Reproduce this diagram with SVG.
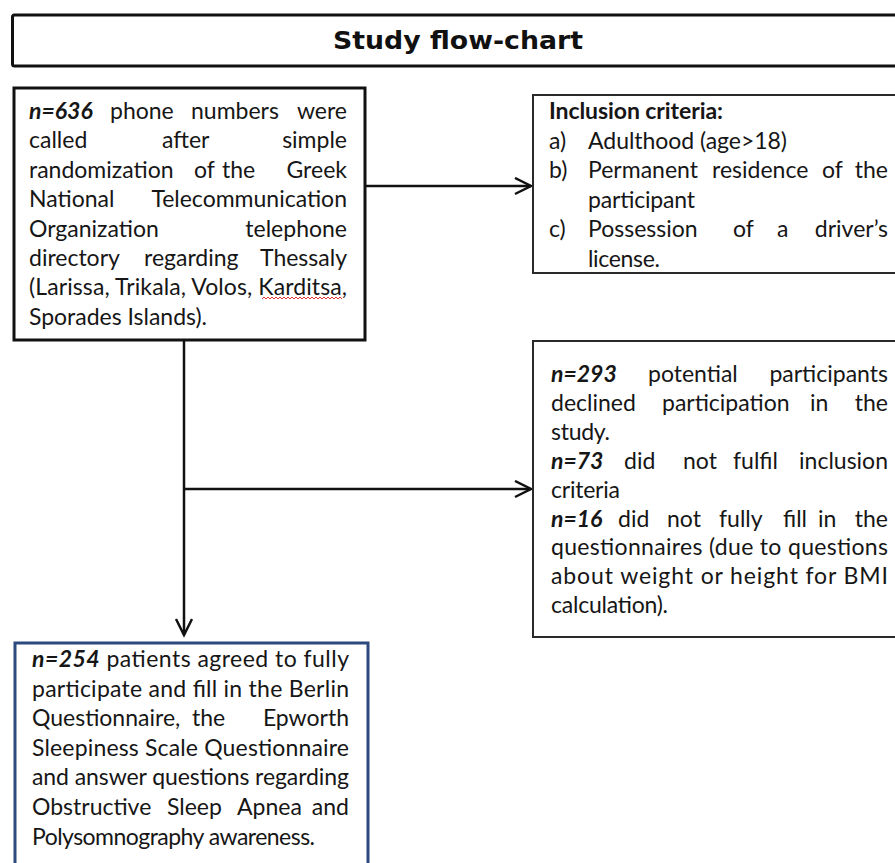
<svg xmlns="http://www.w3.org/2000/svg" width="895" height="863" viewBox="0 0 895 863">
<style>
.t{font-family:Lato,"Liberation Sans",sans-serif;font-size:23px;fill:#161616}
.b{font-weight:bold;font-style:italic}
.h{font-weight:bold}
.e{text-anchor:end}
.box{fill:#fff;stroke:#111;stroke-width:3}
.thin{fill:#fff;stroke:#2a2a2a;stroke-width:2}
.conn{fill:none;stroke:#111;stroke-width:2.5}
</style>
<defs>
<marker id="arr" markerUnits="userSpaceOnUse" markerWidth="20" markerHeight="20" refX="17" refY="9" orient="auto">
<path d="M1,1 L17,9 L1,17" fill="none" stroke="#111" stroke-width="2.5"/>
</marker>
</defs>
<rect width="895" height="863" fill="#fff"/>

<g id="title">
<rect class="box" x="12.5" y="15" width="900" height="51" rx="2"/>
<text x="458" y="49" text-anchor="middle" textLength="250" lengthAdjust="spacingAndGlyphs" style="font-family:'DejaVu Sans',Verdana,sans-serif;font-weight:bold;font-size:25px;fill:#111">Study flow-chart</text>
</g>

<g id="connectors">
<path class="conn" d="M365 186 H531" marker-end="url(#arr)"/>
<path class="conn" d="M184 340 V635" marker-end="url(#arr)"/>
<path class="conn" d="M184 489 H531" marker-end="url(#arr)"/>
</g>

<g id="box-called">
<rect class="box" x="14" y="88" width="351" height="252"/>
<g class="t">
<text x="29" y="119" class="b">n=636</text><text x="110" y="119">phone</text><text x="191" y="119">numbers</text><text x="347" y="119" class="e">were</text>
<text x="29" y="148">called</text><text x="162" y="148">after</text><text x="347" y="148" class="e">simple</text>
<text x="29" y="178">randomization</text><text x="194" y="178">of</text><text x="222" y="178">the</text><text x="347" y="178" class="e">Greek</text>
<text x="29" y="207">National</text><text x="347" y="207" class="e">Telecommunication</text>
<text x="29" y="237">Organization</text><text x="347" y="237" class="e">telephone</text>
<text x="29" y="266">directory</text><text x="144" y="266">regarding</text><text x="347" y="266" class="e">Thessaly</text>
<text x="29" y="295" textLength="318" lengthAdjust="spacing">(Larissa, Trikala, Volos, Karditsa,</text>
<text x="29" y="325" textLength="178" lengthAdjust="spacing">Sporades Islands).</text>
</g>
<path d="M262 299 l2 -2 l2 2 l2 -2 l2 2 l2 -2 l2 2 l2 -2 l2 2 l2 -2 l2 2 l2 -2 l2 2 l2 -2 l2 2 l2 -2 l2 2 l2 -2 l2 2 l2 -2 l2 2 l2 -2 l2 2 l2 -2 l2 2 l2 -2 l2 2 l2 -2 l2 2 l2 -2 l2 2 l2 -2 l2 2 l2 -2 l2 2 l2 -2 l2 2 l2 -2 l2 2 l2 -2 l2 2" fill="none" stroke="#e03030" stroke-width="1"/>
</g>

<g id="box-inclusion">
<rect class="thin" x="533" y="95" width="380" height="178"/>
<g class="t">
<text x="549" y="119" class="h" textLength="174" lengthAdjust="spacing">Inclusion criteria:</text>
<text x="549" y="149">a)</text><text x="588" y="149" textLength="199" lengthAdjust="spacing">Adulthood (age&gt;18)</text>
<text x="549" y="178">b)</text><text x="588" y="178">Permanent</text><text x="712" y="178">residence</text><text x="822" y="178">of</text><text x="888" y="178" class="e">the</text>
<text x="588" y="208" textLength="107" lengthAdjust="spacing">participant</text>
<text x="549" y="237">c)</text><text x="588" y="237">Possession</text><text x="733" y="237">of</text><text x="777" y="237">a</text><text x="888" y="237" class="e">driver’s</text>
<text x="588" y="267" textLength="72" lengthAdjust="spacing">license.</text>
</g>
</g>

<g id="box-excluded">
<rect class="thin" x="533" y="341" width="380" height="296"/>
<g class="t">
<text x="551" y="382" class="b">n=293</text><text x="648" y="382">potential</text><text x="888" y="382" class="e">participants</text>
<text x="551" y="411">declined</text><text x="662" y="411">participation</text><text x="810" y="411">in</text><text x="888" y="411" class="e">the</text>
<text x="551" y="440" textLength="59" lengthAdjust="spacing">study.</text>
<text x="551" y="469" class="b">n=73</text><text x="624" y="469">did</text><text x="683" y="469">not</text><text x="733" y="469">fulfil</text><text x="888" y="469" class="e">inclusion</text>
<text x="551" y="498" textLength="69" lengthAdjust="spacing">criteria</text>
<text x="551" y="527" class="b">n=16</text><text x="618" y="527">did</text><text x="667" y="527">not</text><text x="719" y="527">fully</text><text x="783" y="527">fill</text><text x="818" y="527">in</text><text x="888" y="527" class="e">the</text>
<text x="551" y="555" textLength="337" lengthAdjust="spacing">questionnaires (due to questions</text>
<text x="551" y="584" textLength="337" lengthAdjust="spacing">about weight or height for BMI</text>
<text x="551" y="613" textLength="117" lengthAdjust="spacing">calculation).</text>
</g>
</g>

<g id="box-agreed">
<rect x="15" y="643" width="353" height="240" fill="#fff" stroke="#2c4a7e" stroke-width="3"/>
<g class="t">
<text x="32" y="667" textLength="317" lengthAdjust="spacing"><tspan class="b">n=254</tspan> patients agreed to fully</text>
<text x="32" y="697" textLength="317" lengthAdjust="spacing">participate and fill in the Berlin</text>
<text x="32" y="726">Questionnaire,</text><text x="192" y="726">the</text><text x="349" y="726" class="e">Epworth</text>
<text x="32" y="756" textLength="317" lengthAdjust="spacing">Sleepiness Scale Questionnaire</text>
<text x="32" y="785" textLength="317" lengthAdjust="spacing">and answer questions regarding</text>
<text x="32" y="815">Obstructive</text><text x="167" y="815">Sleep</text><text x="237" y="815">Apnea</text><text x="349" y="815" class="e">and</text>
<text x="32" y="845" textLength="283" lengthAdjust="spacing">Polysomnography awareness.</text>
</g>
</g>
</svg>
